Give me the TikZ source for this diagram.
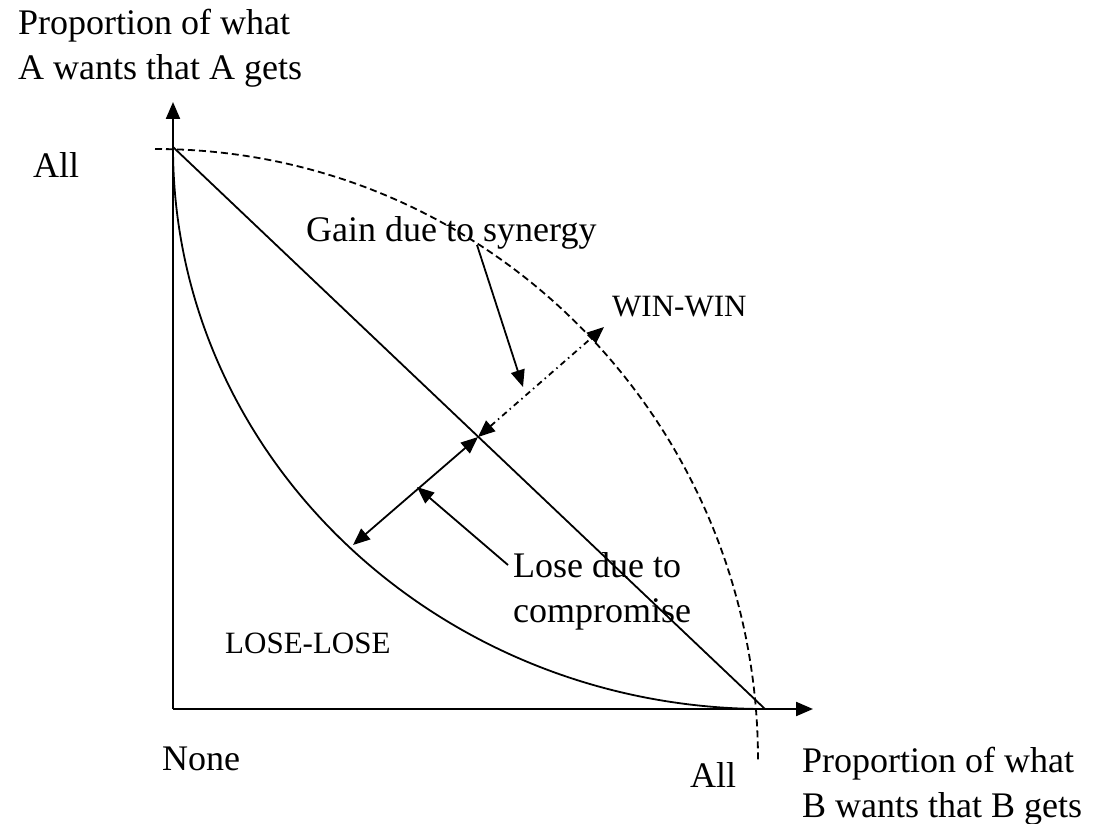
\documentclass[tikz,border=0pt]{standalone}
\usepackage{fontspec}
\setmainfont{Liberation Serif}
\usetikzlibrary{arrows.meta}
\begin{document}
\begin{tikzpicture}[x=1pt,y=1pt,
  big/.style={inner sep=0pt, anchor=base west, font=\fontsize{36}{45}\selectfont, align=left},
  small/.style={inner sep=0pt, anchor=base west, font=\fontsize{31}{38}\selectfont},
  tip/.style={-{Triangle[length=17pt,width=14pt]}},
  tips/.style={{Triangle[length=17pt,width=14pt]}-{Triangle[length=17pt,width=14pt]}},
  ln/.style={line width=1.8pt},
  axis/.style={line width=2.2pt},
  dashcurve/.style={line width=1.8pt, dash pattern=on 7pt off 4pt},
  dashdot/.style={line width=1.8pt, dash pattern=on 6pt off 4pt on 1.5pt off 4pt}]
\useasboundingbox (0,0) rectangle (1094,823);

% axes
\coordinate (O) at (173,114);
\coordinate (Ytip) at (173,721);
\coordinate (Xtip) at (813,114);
\draw[axis,tip] (O) -- (Ytip);
\draw[axis,tip] (O) -- (Xtip);

% diagonal
\coordinate (D1) at (173,676);
\coordinate (D2) at (765,114);
\draw[ln] (D1) -- (D2);

% inner curve (lose-lose boundary)
\draw[ln] (D1) arc[start angle=180, end angle=270, x radius=592, y radius=562];

% outer dashed curve (win-win)
\coordinate (C1) at (155,674);
\draw[dashcurve] (C1) arc[start angle=90, end angle=0, x radius=603, y radius=611];

% labels (multi-line nodes: base = last line)
\node[big] (ya) at (18,743) {Proportion of what\\A wants that A gets};
\node[big] (alltop) at (33,645) {All};
\node[big] (gain) at (306,581) {Gain due to synergy};
\node[small] (win) at (612,506) {WIN-WIN};
\node[big] (lose) at (513,201) {Lose due to\\compromise};
\node[small] (loselose) at (225,170) {LOSE-LOSE};
\node[big] (none) at (162,53) {None};
\node[big] (allbot) at (690,36) {All};
\node[big] (xb) at (802,6) {Proportion of what\\B wants that B gets};

% points for connectors
\coordinate (P) at (478,386);
\coordinate (W) at (604,496);
\coordinate (L) at (353,278);
\coordinate (M) at (417,336);
\coordinate (Gs) at (477,578);
\coordinate (Ge) at (523,436);
\coordinate (Ls) at (508,258);

% gain arrow
\draw[ln,tip] (Gs) -- (Ge);
% synergy dash-dot double arrow
\draw[dashdot,tips] (P) -- (W);
% compromise double arrow
\draw[ln,tips] (L) -- (P);
% lose arrow
\draw[ln,tip] (Ls) -- (M);
\end{tikzpicture}
\end{document}
